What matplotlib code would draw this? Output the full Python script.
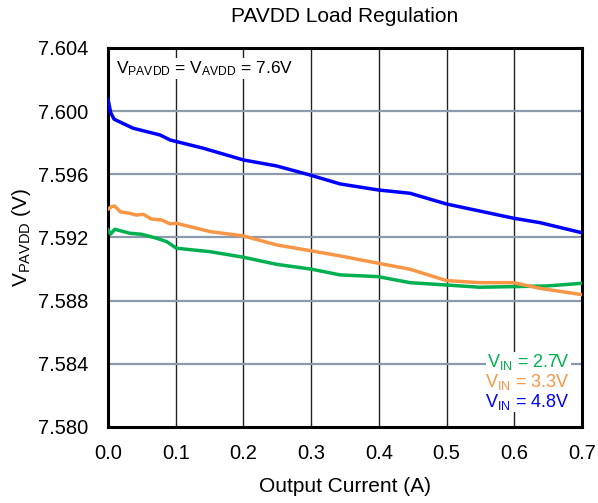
import matplotlib
matplotlib.use("Agg")
import matplotlib.pyplot as plt

plt.rcParams['font.family'] = ['Liberation Sans', 'DejaVu Sans']
plt.rcParams['mathtext.fontset'] = 'custom'
plt.rcParams['mathtext.rm'] = 'Liberation Sans'
plt.rcParams['mathtext.it'] = 'Liberation Sans'

# Output current (A) and V_PAVDD (V)
i_48 = [0.0, 0.004, 0.009, 0.037, 0.077, 0.092, 0.141, 0.2, 0.249, 0.298, 0.343,
        0.399, 0.446, 0.5, 0.599, 0.638, 0.7]
v_48 = [7.60075, 7.59990, 7.59949, 7.59892, 7.59849, 7.59817, 7.59765, 7.59691, 7.59653,
        7.59596, 7.59539, 7.59501, 7.59480, 7.59412, 7.59322, 7.59294, 7.59230]

i_33 = [0.0, 0.005, 0.010, 0.018, 0.032, 0.042, 0.052, 0.064, 0.079, 0.092, 0.101, 0.151,
        0.2, 0.249, 0.301, 0.343, 0.399, 0.446, 0.5, 0.549, 0.599, 0.638, 0.7]
v_33 = [7.59379, 7.59395, 7.59399, 7.59363, 7.59353, 7.59342, 7.59347, 7.59317, 7.59311,
        7.59286, 7.59290, 7.59237, 7.59210, 7.59153, 7.59115, 7.59083, 7.59037, 7.58999,
        7.58927, 7.58914, 7.58914, 7.58878, 7.58838]

i_27 = [0.0, 0.004, 0.010, 0.032, 0.050, 0.072, 0.087, 0.101, 0.151, 0.2, 0.249, 0.301,
        0.343, 0.399, 0.446, 0.5, 0.549, 0.599, 0.648, 0.7]
v_27 = [7.59248, 7.59222, 7.59252, 7.59227, 7.59220, 7.59195, 7.59173, 7.59132, 7.59110,
        7.59075, 7.59030, 7.58999, 7.58963, 7.58952, 7.58914, 7.58899, 7.58885, 7.58889,
        7.58893, 7.58910]

x_ticks = [0.0, 0.1, 0.2, 0.3, 0.4, 0.5, 0.6, 0.7]
y_ticks = [7.580, 7.584, 7.588, 7.592, 7.596, 7.600, 7.604]

fig = plt.figure(figsize=(5.98, 5.03), dpi=100)
ax = fig.add_axes([0.1806, 0.1511, 0.7926, 0.7535])

ax.plot(i_27, v_27, color='#00b050', lw=2.5, zorder=3)
ax.plot(i_33, v_33, color='#f79646', lw=2.5, zorder=3)
ax.plot(i_48, v_48, color='#0000ff', lw=2.5, zorder=3)

ax.set_xlim(0, 0.7)
ax.set_ylim(7.580, 7.604)
ax.set_xticks(x_ticks)
ax.set_xticklabels([f"{t:.1f}" for t in x_ticks])
ax.set_yticks(y_ticks)
ax.set_yticklabels([f"{t:.3f}" for t in y_ticks])
ax.tick_params(length=0, labelsize=14.5)
ax.tick_params(axis='x', pad=12)
ax.tick_params(axis='y', pad=14)

for t in x_ticks[1:-1]:
    ax.axvline(t, color='#222222', lw=1.0, zorder=1)
for t in y_ticks[1:-1]:
    ax.axhline(t, color='#8c9aab', lw=1.6, zorder=1)
for s in ax.spines.values():
    s.set_linewidth(2.2)

ax.set_title('PAVDD Load Regulation', fontsize=15, pad=19)
ax.set_xlabel('Output Current (A)', fontsize=15, labelpad=10)
ax.set_ylabel(r'V$_{\mathrm{PAVDD}}$ (V)', fontsize=15, labelpad=4)

ax.text(0.012, 7.6027, r'V$_{\mathrm{PAVDD}}$ = V$_{\mathrm{AVDD}}$ = 7.6V', fontsize=12.5,
        va='center', ha='left', zorder=4,
        bbox=dict(facecolor='white', edgecolor='none', pad=1))

legend_items = [('2.7V', '#00b050'), ('3.3V', '#f79646'), ('4.8V', '#0000ff')]
for k, (lbl, col) in enumerate(legend_items):
    ax.text(0.682, 7.5841 - k * 0.00125, r'V$_{\mathrm{IN}}$ = ' + lbl, color=col,
            fontsize=13, ha='right', va='center', zorder=4,
            bbox=dict(facecolor='white', edgecolor='none', pad=0.5))

fig.savefig('out.png', dpi=100)
